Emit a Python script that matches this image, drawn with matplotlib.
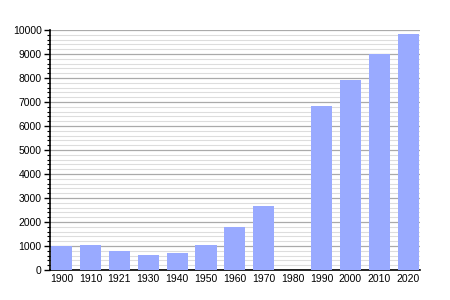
import numpy as np
import matplotlib
matplotlib.use("Agg")
import matplotlib.pyplot as plt
from matplotlib.ticker import MultipleLocator

# Population by census year (1980: no data)
years = ["1900", "1910", "1921", "1930", "1940", "1950", "1960", "1970",
         "1980", "1990", "2000", "2010", "2020"]
population = [1000, 1040, 790, 625, 710, 1040, 1790, 2670,
              0, 6830, 7920, 9000, 9830]

plt.rcParams["font.family"] = ["Liberation Sans", "DejaVu Sans"]

fig = plt.figure(figsize=(4.5, 3), dpi=100)
ax = fig.add_axes([0.111, 0.1, 0.822, 0.8])

x = np.arange(len(years))
ax.bar(x, population, width=0.73, color="#99aaff", zorder=3)

ax.set_xlim(-0.4, len(years) - 0.6)
ax.set_ylim(0, 10000)
ax.set_xticks(x)
ax.set_xticklabels(years)
ax.yaxis.set_major_locator(MultipleLocator(1000))
ax.yaxis.set_minor_locator(MultipleLocator(200))

# grid: dark major lines, light minor lines
ax.grid(axis="y", which="major", color="#aaaaaa", linewidth=0.9, zorder=1)
ax.grid(axis="y", which="minor", color="#dddddd", linewidth=0.8, zorder=0)

ax.spines["top"].set_visible(False)
ax.spines["right"].set_visible(False)
ax.spines["left"].set_linewidth(1.2)
ax.spines["bottom"].set_linewidth(1.2)
ax.tick_params(axis="x", length=0, labelsize=7.5, pad=3)
ax.tick_params(axis="y", which="major", length=4, width=1, labelsize=7.5, pad=2)
ax.tick_params(axis="y", which="minor", length=2, width=0.8)

fig.savefig("out.png", dpi=100)
